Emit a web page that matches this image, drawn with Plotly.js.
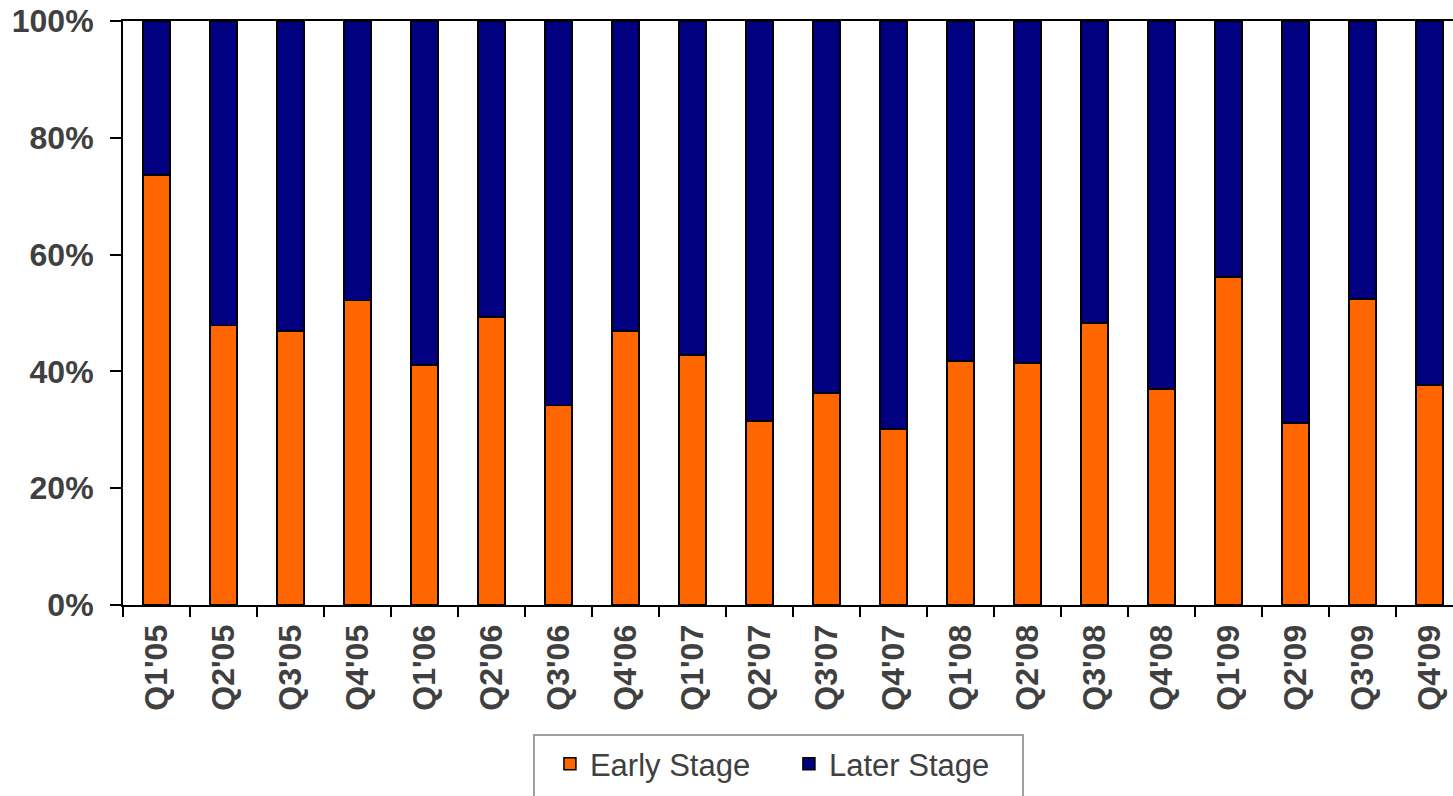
<!DOCTYPE html>
<html>
<head>
<meta charset="utf-8">
<script src="https://cdn.plot.ly/plotly-3.0.1.min.js"></script>
<style>html,body{margin:0;padding:0;background:#fff;}#chart{width:1453px;height:796px;}</style>
</head>
<body>
<div id="chart"></div>
<script>
var quarters = ["Q1'05","Q2'05","Q3'05","Q4'05","Q1'06","Q2'06","Q3'06","Q4'06","Q1'07","Q2'07","Q3'07","Q4'07","Q1'08","Q2'08","Q3'08","Q4'08","Q1'09","Q2'09","Q3'09","Q4'09"];
var earlyStage = [73.6,47.9,46.9,52.1,41.1,49.3,34.2,46.9,42.8,31.5,36.3,30.1,41.8,41.4,48.3,37.0,56.2,31.2,52.4,37.7];
var laterStage = [26.4,52.1,53.1,47.9,58.9,50.7,65.8,53.1,57.2,68.5,63.7,69.9,58.2,58.6,51.7,63.0,43.8,68.8,47.6,62.3];

var FONT = "Liberation Sans, Arial, sans-serif";
var TXT = "#404040";

var traces = [
  {type:'bar', name:'Early Stage', x:quarters, y:earlyStage, width:0.4,
   marker:{color:'#FF6600', line:{color:'#000000', width:1.5}}, hoverinfo:'x+y'},
  {type:'bar', name:'Later Stage', x:quarters, y:laterStage, width:0.4,
   marker:{color:'#000080', line:{color:'#000000', width:1.5}}, hoverinfo:'x+y'}
];

var layout = {
  width:1453, height:796,
  margin:{l:123, r:0, t:21, b:191, autoexpand:false},
  paper_bgcolor:'#ffffff', plot_bgcolor:'#ffffff',
  barmode:'stack',
  showlegend:true,
  font:{family:FONT, color:TXT},
  xaxis:{
    type:'category', range:[-0.5, 19.35], automargin:false,
    showline:true, linecolor:'#000000', linewidth:2, mirror:true,
    ticks:'outside', tickson:'boundaries', ticklen:10, tickwidth:2, tickcolor:'#000000',
    tickangle:-90, ticklabelstandoff:5,
    tickfont:{family:FONT, size:32, color:TXT, weight:'bold'},
    showgrid:false, zeroline:false, fixedrange:true
  },
  yaxis:{
    range:[0,100], dtick:20, ticksuffix:'%', automargin:false,
    showline:true, linecolor:'#000000', linewidth:2,
    ticks:'outside', ticklen:11, tickwidth:2, tickcolor:'#000000',
    ticklabelstandoff:10,
    tickfont:{family:FONT, size:32, color:TXT, weight:'bold'},
    showgrid:false, zeroline:false, fixedrange:true
  },
  legend:{
    orientation:'h', x:0.321, xanchor:'left', y:-0.226, yanchor:'top',
    font:{family:FONT, size:31, color:TXT}, borderwidth:0, bgcolor:'rgba(0,0,0,0)',
    traceorder:'normal', entrywidth:194, entrywidthmode:'pixels'
  },
  shapes:[
    {type:'rect', xref:'paper', yref:'paper', x0:0.309, x1:0.6767, y0:-0.2226, y1:-0.36,
     line:{color:'#808080', width:1.5}, fillcolor:'rgba(0,0,0,0)'}
  ]
};

Plotly.newPlot('chart', traces, layout, {displayModeBar:false, staticPlot:true});
</script>
</body>
</html>
